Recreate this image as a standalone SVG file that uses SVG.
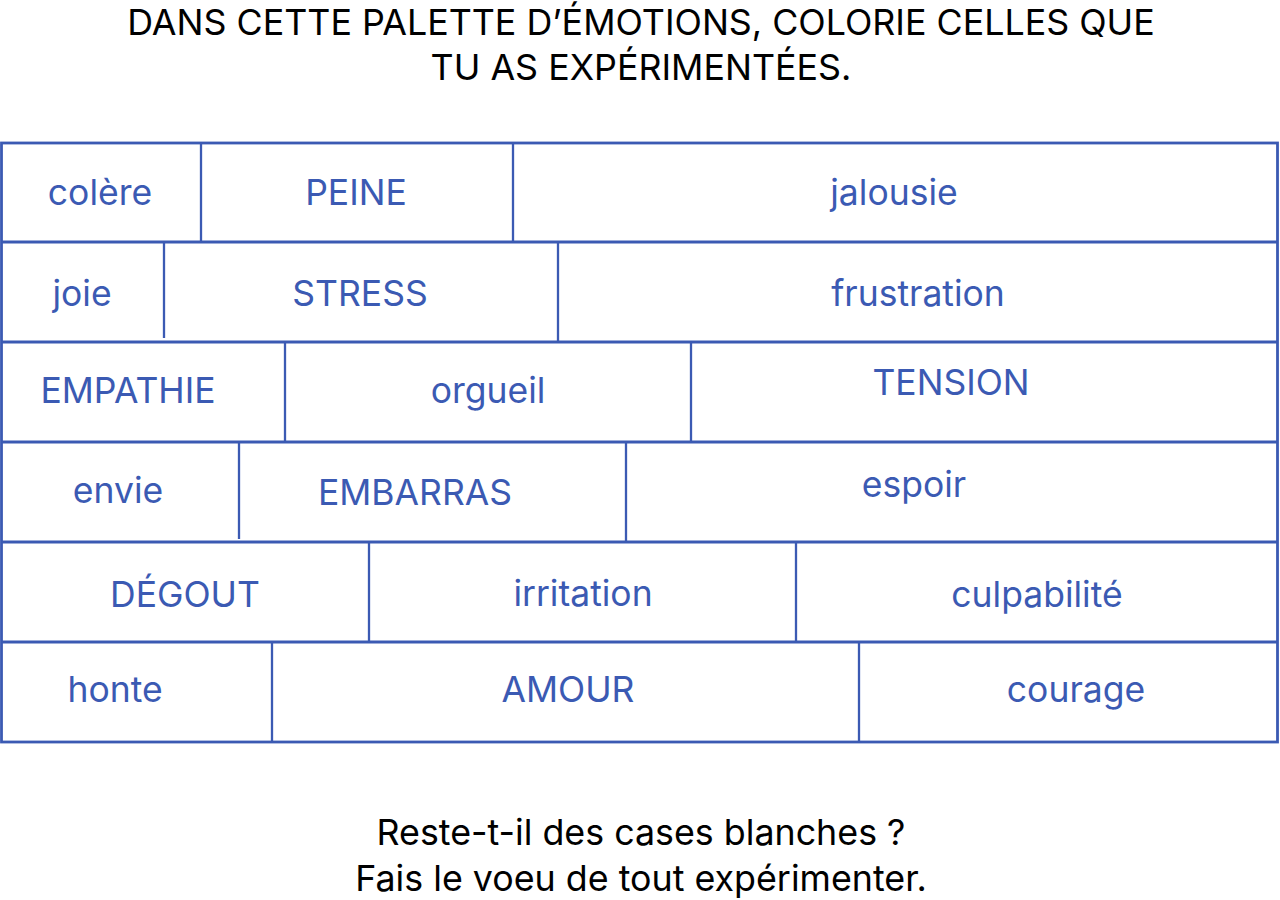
<svg xmlns="http://www.w3.org/2000/svg" width="1280" height="900" viewBox="0 0 1280 900">
<style>
.t{font-family:Inter,"Noto Sans","Liberation Sans",sans-serif;font-size:35.8px;fill:#000;text-anchor:middle}
.l{font-family:Inter,"Noto Sans","Liberation Sans",sans-serif;font-size:35.5px;fill:#3B5AB3;text-anchor:middle}
.h{stroke:#3B5AB3;stroke-width:2.8;fill:none}
.v{stroke:#3B5AB3;stroke-width:2.3;fill:none}
</style>
<rect width="1280" height="900" fill="#fff"/>
<g id="title">
<text class="t" x="641" y="35">DANS CETTE PALETTE D’ÉMOTIONS, COLORIE CELLES QUE</text>
<text class="t" x="641" y="80">TU AS EXPÉRIMENTÉES.</text>
</g>
<g id="grid">
<rect class="h" x="1.5" y="143" width="1276" height="599"/>
<path class="h" d="M1.5 242H1277.5M1.5 342H1277.5M1.5 442H1277.5M1.5 542H1277.5M1.5 642H1277.5"/>
<path class="v" d="M201 143V242M513 143V242M164 242V338M558 242V342M285 342V442M691 342V442M239 442V539M626 442V542M369 542V642M796 542V642M272 642V742M859 642V742"/>
</g>
<g id="r1">
<text class="l" x="100" y="205">colère</text>
<text class="l" x="356" y="205">PEINE</text>
<text class="l" x="894" y="205">jalousie</text>
</g>
<g id="r2">
<text class="l" x="82" y="306">joie</text>
<text class="l" x="360" y="306">STRESS</text>
<text class="l" x="918" y="306">frustration</text>
</g>
<g id="r3">
<text class="l" x="128" y="403">EMPATHIE</text>
<text class="l" x="488" y="403">orgueil</text>
<text class="l" x="951" y="395">TENSION</text>
</g>
<g id="r4">
<text class="l" x="118" y="503">envie</text>
<text class="l" x="415" y="505">EMBARRAS</text>
<text class="l" x="914" y="497">espoir</text>
</g>
<g id="r5">
<text class="l" x="185" y="607">DÉGOUT</text>
<text class="l" x="583" y="606">irritation</text>
<text class="l" x="1037" y="607">culpabilité</text>
</g>
<g id="r6">
<text class="l" x="115" y="702">honte</text>
<text class="l" x="568" y="702">AMOUR</text>
<text class="l" x="1076" y="702">courage</text>
</g>
<g id="footer">
<text class="t" x="641" y="845">Reste-t-il des cases blanches ?</text>
<text class="t" x="641" y="891">Fais le voeu de tout expérimenter.</text>
</g>
</svg>
